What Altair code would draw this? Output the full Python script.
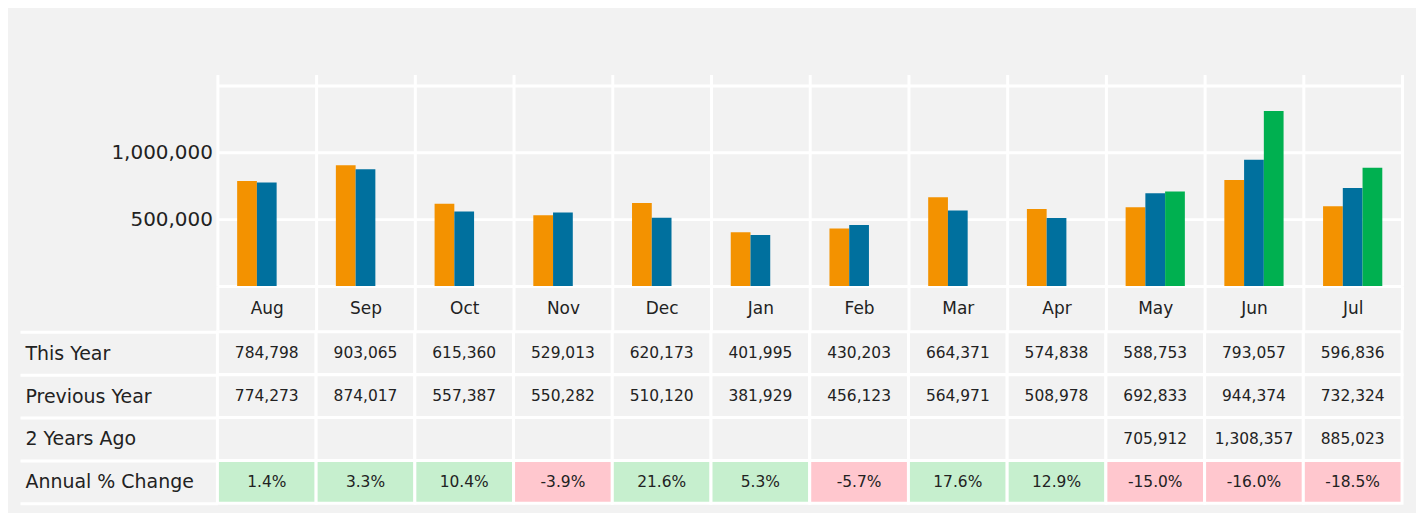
import altair as alt
import pandas as pd

months = ["Aug", "Sep", "Oct", "Nov", "Dec", "Jan", "Feb", "Mar", "Apr", "May", "Jun", "Jul"]
series = ["This Year", "Previous Year", "2 Years Ago"]
this_year = [784798, 903065, 615360, 529013, 620173, 401995, 430203, 664371, 574838, 588753, 793057, 596836]
previous_year = [774273, 874017, 557387, 550282, 510120, 381929, 456123, 564971, 508978, 692833, 944374, 732324]
two_years_ago = [None, None, None, None, None, None, None, None, None, 705912, 1308357, 885023]
annual_change = [1.4, 3.3, 10.4, -3.9, 21.6, 5.3, -5.7, 17.6, 12.9, -15.0, -16.0, -18.5]
row_labels = ["This Year", "Previous Year", "2 Years Ago", "Annual % Change"]
y_ticks = [0, 500000, 1000000, 1500000]

colors = ["#F39200", "#00709E", "#00B050"]
BG = "#F2F2F2"
FONT = "DejaVu Sans"
TXT = "#222222"

# bar data
bar_rows = []
for s, vals in zip(series, [this_year, previous_year, two_years_ago]):
    for m, v in zip(months, vals):
        if v is not None:
            bar_rows.append({"month": m, "series": s, "value": v})
bars_df = pd.DataFrame(bar_rows)

# table data
tab_rows = []
for s, vals in zip(series, [this_year, previous_year, two_years_ago]):
    for m, v in zip(months, vals):
        tab_rows.append({"month": m, "row": s,
                         "text": "" if v is None else f"{v:,}", "status": "none"})
for m, v in zip(months, annual_change):
    tab_rows.append({"month": m, "row": "Annual % Change",
                     "text": f"{v:.1f}%", "status": "pos" if v >= 0 else "neg"})
tab_df = pd.DataFrame(tab_rows)

bars = alt.Chart(bars_df).mark_bar().encode(
    x=alt.X("month:N", sort=months,
            scale=alt.Scale(paddingInner=0, paddingOuter=0),
            axis=alt.Axis(title=None, orient="bottom", labelAngle=0, domain=False,
                          ticks=True, tickColor="white", tickWidth=3, tickSize=44,
                          tickBand="extent", grid=True, gridColor="white", gridWidth=3,
                          labelPadding=-21, labelBaseline="middle", labelFont=FONT,
                          labelFontSize=17, labelColor=TXT)),
    xOffset=alt.XOffset("series:N", sort=series,
                        scale=alt.Scale(domain=series, paddingInner=0, paddingOuter=1)),
    y=alt.Y("value:Q",
            scale=alt.Scale(domain=[0, 1582000], nice=False, zero=True),
            axis=alt.Axis(title=None, values=y_ticks, format=",d", ticks=False, domain=False,
                          grid=True, gridColor="white", gridWidth=3,
                          labelExpr="datum.value == 500000 || datum.value == 1000000 ? datum.label : ''",
                          labelFont=FONT, labelFontSize=20, labelColor=TXT, labelPadding=5,
                          minExtent=205, maxExtent=205)),
    color=alt.Color("series:N", scale=alt.Scale(domain=series, range=colors), legend=None),
).properties(width=1188, height=212)

cells = alt.Chart(tab_df).mark_rect(stroke="white", strokeWidth=3).encode(
    x=alt.X("month:N", sort=months, scale=alt.Scale(paddingInner=0, paddingOuter=0), axis=None),
    y=alt.Y("row:N", sort=row_labels,
            scale=alt.Scale(paddingInner=0, paddingOuter=0),
            axis=alt.Axis(title=None, orient="left", domain=False, grid=False,
                          ticks=True, tickColor="white", tickWidth=3, tickSize=198,
                          tickBand="extent", labelAlign="left", labelPadding=-5,
                          labelFont=FONT, labelFontSize=19, labelColor=TXT,
                          minExtent=205, maxExtent=205)),
    color=alt.Color("status:N", scale=alt.Scale(domain=["none", "pos", "neg"],
                                                range=[BG, "#C6EFCE", "#FFC7CE"]),
                    legend=None),
)

texts = alt.Chart(tab_df).mark_text(font=FONT, fontSize=15.5, color=TXT).encode(
    x=alt.X("month:N", sort=months),
    y=alt.Y("row:N", sort=row_labels),
    text="text:N",
)

table = alt.layer(cells, texts).properties(width=1188, height=172)

chart = alt.vconcat(bars, table, spacing=-10).resolve_scale(
    color="independent"
).properties(
    padding={"top": 66, "left": 5, "right": 12, "bottom": 11},
    background=BG,
).configure_view(stroke=None, fill=None)

chart.save("out.html", embed_options={"renderer": "svg", "actions": False})
